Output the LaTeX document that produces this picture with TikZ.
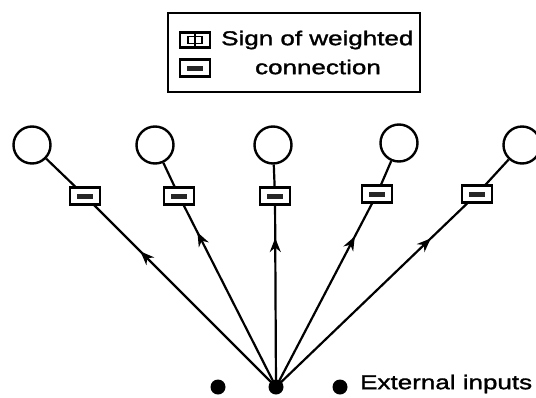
\documentclass[tikz,border=0pt]{standalone}
\usepackage{fontspec}
\newfontfamily\labfont[FakeStretch=1.3,FakeBold=1.5]{Liberation Sans}
\usetikzlibrary{arrows.meta,decorations.markings,backgrounds}
\tikzset{
  unit/.style={circle,draw,line width=2.4pt,minimum size=37pt,inner sep=0pt},
  wbox/.style={rectangle,draw,fill=white,line width=2.2pt,minimum width=30pt,minimum height=17pt,inner sep=0pt,
    path picture={\fill[black!85] ([xshift=-8pt,yshift=-2.5pt]path picture bounding box.center) rectangle ([xshift=8pt,yshift=2.5pt]path picture bounding box.center);}},
  pbox/.style={rectangle,draw,fill=white,line width=2.2pt,minimum width=30pt,minimum height=15pt,inner sep=0pt},
  indot/.style={circle,fill=black,minimum size=15pt,inner sep=0pt},
  conn/.style={line width=2.2pt},
  arr/.style={conn,postaction={decorate},decoration={markings,mark=at position #1 with {\arrow{Stealth[length=14pt,width=11pt]}}}},
  lab/.style={font=\labfont\fontsize{20pt}{22pt}\selectfont,inner sep=0pt}
}
\begin{document}
\begin{tikzpicture}[x=1pt,y=-1pt]
\useasboundingbox (0,0) rectangle (536,397);
% legend
\draw[line width=2.2pt] (168,13) rectangle (420,92);
\node[pbox] (lp) at (195,40) {};
\draw[line width=1.8pt] (188,36.5) rectangle (202,43.5);
\draw[line width=1.8pt] (195,33) -- (195,47);
\node[wbox] (lm) at (195,68) {};
\node[lab,anchor=west] (lt1) at (221,40) {Sign of weighted};
\node[lab] (lt2) at (318,67) {connection};
% units
\node[unit] (c1) at (32,145) {};
\node[unit] (c2) at (155,145) {};
\node[unit] (c3) at (273,145) {};
\node[unit] (c4) at (399,143) {};
\node[unit] (c5) at (522,145) {};
% weights
\node[wbox] (w1) at (85,196) {};
\node[wbox] (w2) at (179,196) {};
\node[wbox] (w3) at (275,196) {};
\node[wbox] (w4) at (377,194) {};
\node[wbox] (w5) at (477,194) {};
% inputs
\node[indot] (d1) at (218,387) {};
\node[indot] (d2) at (276,387) {};
\node[indot] (d3) at (340,387) {};
\node[lab,anchor=west] (ext) at (360,384) {External inputs};
% connections
\begin{scope}[on background layer]
\draw[arr=0.71] (d2.center) -- (w1.center);
\draw[arr=0.81] (d2.center) -- (w2.center);
\draw[arr=0.78] (d2.center) -- (w3.center);
\draw[arr=0.78] (d2.center) -- (w4.center);
\draw[arr=0.77] (d2.center) -- (w5.center);
\draw[conn] (w1.center) -- (c1);
\draw[conn] (w2.center) -- (c2);
\draw[conn] (w3.center) -- (c3);
\draw[conn] (w4.center) -- (c4);
\draw[conn] (w5.center) -- (c5);
\end{scope}
\end{tikzpicture}
\end{document}
